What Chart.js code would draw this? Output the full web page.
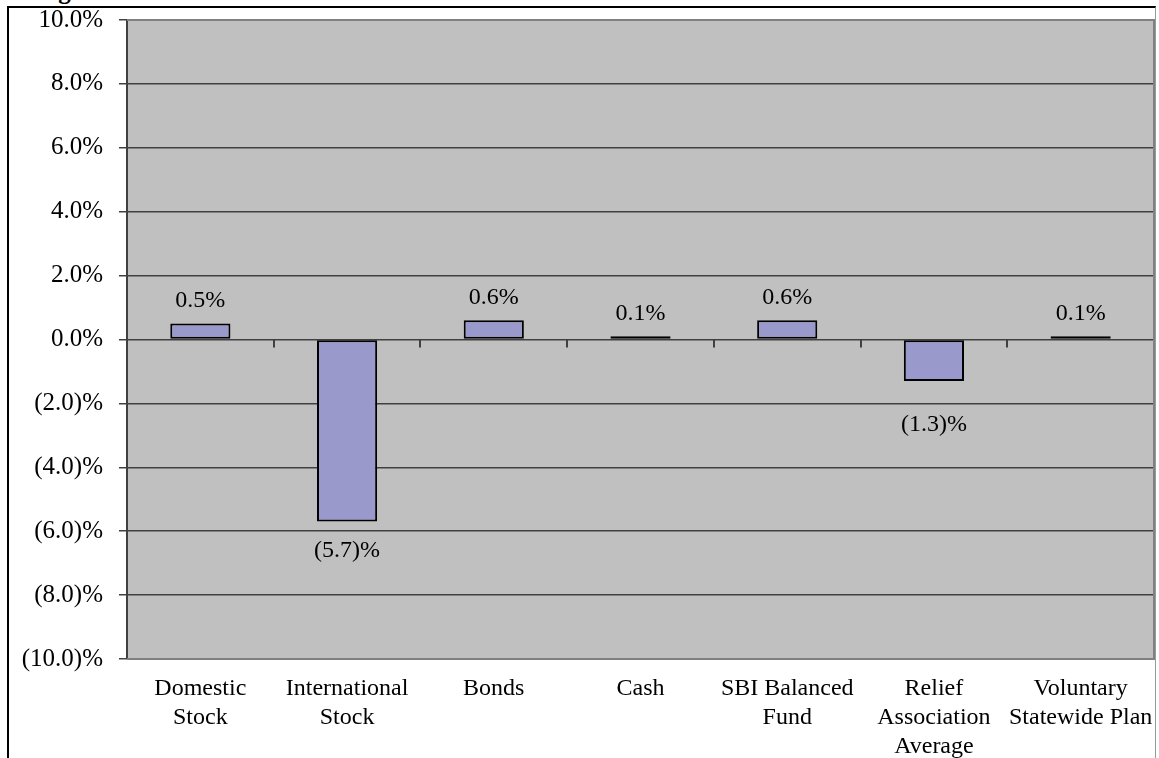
<!DOCTYPE html>
<html>
<head>
<meta charset="utf-8">
<script src="https://cdn.jsdelivr.net/npm/chart.js@4.4.1/dist/chart.umd.min.js"></script>
<style>
  html, body { margin: 0; padding: 0; background: #fff; overflow: hidden; }
  #wrap { position: relative; width: 1159px; height: 758px; }
  #frame { position: absolute; left: 7px; top: 6px; width: 1149px; height: 760px;
           border-top: 2px solid #000; border-left: 2px solid #000; border-right: 1px solid #999; box-sizing: border-box; }
  #cap { position: absolute; left: 36px; top: -23px; font: bold 25px "Liberation Serif", serif; color: #000; }
  canvas { position: absolute; left: 0; top: 0; }
</style>
</head>
<body>
<div id="wrap">
  <div id="cap">Figure</div>
  <div id="frame"></div>
  <canvas id="chart" width="1159" height="758"></canvas>
</div>
<script>
let categories = [
    ["Domestic", "Stock"],
    ["International", "Stock"],
    ["Bonds"],
    ["Cash"],
    ["SBI Balanced", "Fund"],
    ["Relief", "Association", "Average"],
    ["Voluntary", "Statewide Plan"]
];
let returns = [0.5, -5.7, 0.6, 0.1, 0.6, -1.3, 0.1];
let yMin = -10, yMax = 10, yStep = 2;

function pct(v){
    if(v < 0) return "(" + Math.abs(v).toFixed(1) + ")%";
    return v.toFixed(1) + "%";
}

// gray plot background + border
let plotBg = {
    id: 'plotBg',
    beforeDraw(chart){
        let a = chart.chartArea, c = chart.ctx;
        c.save();
        c.fillStyle = '#C0C0C0';
        c.fillRect(a.left, a.top, a.right - a.left, a.bottom - a.top);
        c.restore();
    },
    afterDraw(chart){
        let a = chart.chartArea, c = chart.ctx;
        c.save();
        c.strokeStyle = '#808080';
        c.lineWidth = 2;
        c.beginPath();
        c.moveTo(a.left, a.top);
        c.lineTo(a.right, a.top);
        c.lineTo(a.right, a.bottom);
        c.lineTo(a.left, a.bottom);
        c.stroke();
        c.restore();
    }
};

// category tick marks along the zero line
let zeroTicks = {
    id: 'zeroTicks',
    afterDatasetsDraw(chart){
        let a = chart.chartArea, c = chart.ctx;
        let y0 = chart.scales.y.getPixelForValue(0);
        let w = (a.right - a.left) / categories.length;
        c.save();
        c.strokeStyle = '#404040';
        c.lineWidth = 2;
        for(let k = 1; k <= categories.length; k++){
            let x = Math.round(a.left + k * w);
            c.beginPath();
            c.moveTo(x, y0);
            c.lineTo(x, y0 + 8);
            c.stroke();
        }
        c.restore();
    }
};

// value labels
let valueLabels = {
    id: 'valueLabels',
    afterDatasetsDraw(chart, args, opts){
        let c = chart.ctx;
        let meta = chart.getDatasetMeta(0);
        c.save();
        c.font = '24px "Liberation Serif", serif';
        c.fillStyle = '#000';
        c.textAlign = 'center';
        c.textBaseline = 'middle';
        meta.data.forEach((bar, i) => {
            let v = returns[i];
            let y = v >= 0 ? bar.y - opts.above : bar.y + opts.below[i];
            c.fillText(pct(v), bar.x, y);
        });
        c.restore();
    }
};

new Chart(document.getElementById('chart'), {
    type: 'bar',
    data: {
        labels: categories,
        datasets: [{
            data: returns,
            backgroundColor: '#9999CC',
            borderColor: '#000000',
            borderWidth: 2,
            borderSkipped: false,
            categoryPercentage: 1,
            barPercentage: 0.41
        }]
    },
    options: {
        responsive: false,
        animation: false,
        events: [],
        layout: { padding: { top: 20, right: 5, left: 0, bottom: 0 } },
        plugins: {
            legend: { display: false },
            tooltip: { enabled: false },
            valueLabels: { above: 23, below: [0, 29, 0, 0, 0, 44, 0] }
        },
        scales: {
            x: {
                grid: { display: false, drawTicks: false },
                border: { display: false },
                ticks: {
                    padding: 15,
                    color: '#000',
                    maxRotation: 0,
                    autoSkip: false,
                    font: { family: '"Liberation Serif", serif', size: 24, lineHeight: 1.22 }
                },
                afterFit(s){ s.height = 99; s.paddingLeft = 0; s.paddingRight = 0; }
            },
            y: {
                min: yMin,
                max: yMax,
                ticks: {
                    stepSize: yStep,
                    padding: 16,
                    color: '#000',
                    font: { family: '"Liberation Serif", serif', size: 25 },
                    callback: v => pct(v)
                },
                grid: { color: '#404040', lineWidth: 1.5, tickLength: 8 },
                border: { display: true, color: '#404040', width: 2 },
                afterFit(s){ s.width = 127; s.paddingTop = 0; s.paddingBottom = 0; }
            }
        }
    },
    plugins: [plotBg, zeroTicks, valueLabels]
});
</script>
</body>
</html>
